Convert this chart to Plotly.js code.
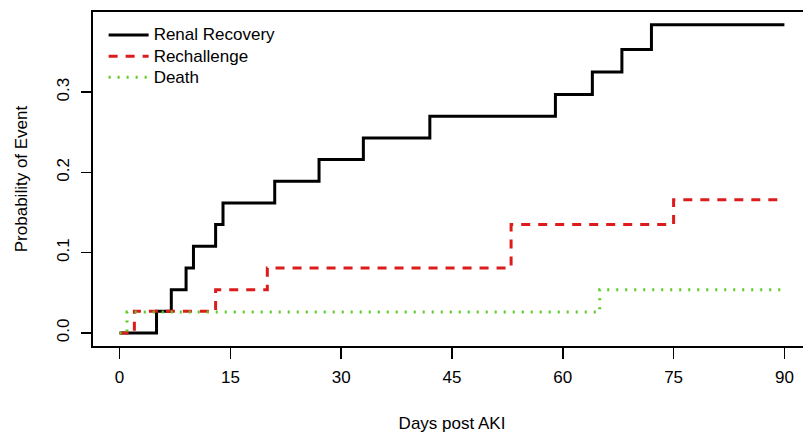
<!DOCTYPE html>
<html>
<head>
<meta charset="utf-8">
<script src="https://cdn.plot.ly/plotly-3.0.1.min.js"></script>
<style>
html, body { margin: 0; padding: 0; overflow: hidden; background: #fff; }
#chart { width: 811px; height: 433px; }
</style>
</head>
<body>
<div id="chart"></div>
<script>
// Cumulative incidence step data
const renalDays = [0, 5, 7, 9, 10, 13, 14, 21, 27, 33, 42, 59, 64, 68, 72, 90];
const renalProb = [0, 0.027, 0.054, 0.081, 0.108, 0.135, 0.162, 0.189, 0.216, 0.243, 0.270, 0.297, 0.325, 0.353, 0.384, 0.384];

const rechalDays = [0, 2, 13, 20, 53, 75, 90];
const rechalProb = [0, 0.027, 0.054, 0.081, 0.135, 0.166, 0.166];

const deathDays = [0, 1, 65, 90];
const deathProb = [0, 0.026, 0.054, 0.054];

const seriesNames = ["Renal Recovery", "Rechallenge", "Death"];
const xTicks = [0, 15, 30, 45, 60, 75, 90];
const yTicks = [0.0, 0.1, 0.2, 0.3];
const yTickText = ["0.0", "0.1", "0.2", "0.3"];

const FONT = "Liberation Sans, Arial, Helvetica, sans-serif";

function legendLabel(s) { return '<span style="font-size:17px">' + s + '</span>'; }

const traces = [
  { x: renalDays, y: renalProb, name: legendLabel(seriesNames[0]), mode: "lines",
    line: { shape: "hv", color: "#000000", width: 3 } },
  { x: rechalDays, y: rechalProb, name: legendLabel(seriesNames[1]), mode: "lines",
    line: { shape: "hv", color: "#dc1c1c", width: 3, dash: "9px,8px" } },
  { x: deathDays, y: deathProb, name: legendLabel(seriesNames[2]), mode: "lines",
    line: { shape: "hv", color: "#5ccb22", width: 3, dash: "2px,7px" } }
];

const layout = {
  width: 811, height: 433,
  margin: { l: 93, r: 0, t: 12, b: 87 },
  paper_bgcolor: "#ffffff", plot_bgcolor: "#ffffff",
  font: { family: FONT, size: 17, color: "#000000" },
  showlegend: true,
  legend: {
    x: 0.0148, y: 0.978, xanchor: "left", yanchor: "top",
    bgcolor: "rgba(0,0,0,0)", borderwidth: 0,
    font: { family: FONT, size: 14, color: "#000000" },
    itemwidth: 40, tracegroupgap: 0
  },
  xaxis: {
    range: [-3.6, 93.6], tickmode: "array", tickvals: xTicks,
    ticktext: xTicks.map(String),
    ticks: "outside", ticklen: 11, tickwidth: 1.5, tickcolor: "#000",
    ticklabelstandoff: 4,
    showline: true, mirror: true, linecolor: "#000", linewidth: 2,
    showgrid: false, zeroline: false,
    tickfont: { family: FONT, size: 17, color: "#000" },
    title: { text: "Days post AKI", font: { family: FONT, size: 17, color: "#000" }, standoff: 34 }
  },
  yaxis: {
    range: [-0.0162, 0.3998], tickmode: "array", tickvals: yTicks, ticktext: yTickText,
    tickangle: -90,
    ticks: "outside", ticklen: 10, tickwidth: 1.5, tickcolor: "#000",
    ticklabelstandoff: 5,
    showline: true, mirror: true, linecolor: "#000", linewidth: 2,
    showgrid: false, zeroline: false,
    tickfont: { family: FONT, size: 17, color: "#000" },
    title: { text: "Probability of Event", font: { family: FONT, size: 17, color: "#000" }, standoff: 22 }
  }
};

Plotly.newPlot("chart", traces, layout, { staticPlot: true, displayModeBar: false });
</script>
</body>
</html>
